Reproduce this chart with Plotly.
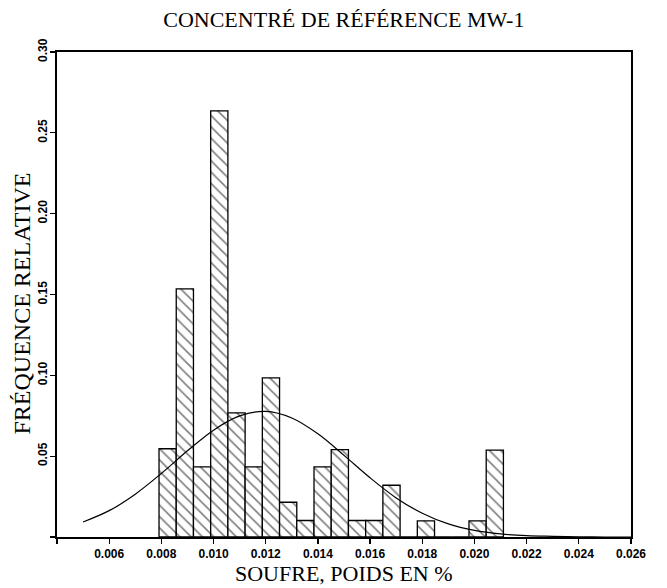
import plotly.graph_objects as go

# ---- data ----
bin_centers = [0.00824, 0.00890, 0.00956, 0.01022, 0.01088, 0.01154, 0.01220,
               0.01286, 0.01352, 0.01418, 0.01484, 0.01550, 0.01616, 0.01682,
               0.01748, 0.01814, 0.01880, 0.01946, 0.02012, 0.02078]
bin_width = 0.00066
rel_freq = [0.0546, 0.1535, 0.0434, 0.2636, 0.0768, 0.0434, 0.0984,
            0.0215, 0.0102, 0.0434, 0.0540, 0.0102, 0.0102, 0.0320,
            0.0, 0.0100, 0.0, 0.0, 0.0100, 0.0537]

curve_x = [0.005, 0.006, 0.007, 0.008, 0.009, 0.010, 0.011, 0.012, 0.013,
           0.014, 0.015, 0.016, 0.017, 0.018, 0.019, 0.020, 0.021, 0.022,
           0.023, 0.024, 0.025, 0.026]
curve_y = [0.0093, 0.0163, 0.0265, 0.0393, 0.0533, 0.0661, 0.0749, 0.0777,
           0.0736, 0.0638, 0.0505, 0.0366, 0.0242, 0.0147, 0.0081, 0.0041,
           0.0019, 0.0008, 0.0004, 0.0001, 0.0, 0.0]

x_tickvals = [0.004, 0.006, 0.008, 0.010, 0.012, 0.014, 0.016, 0.018,
              0.020, 0.022, 0.024, 0.026]
x_ticktext = ["", "0.006", "0.008", "0.010", "0.012", "0.014", "0.016",
              "0.018", "0.020", "0.022", "0.024", "0.026"]
y_tickvals = [0, 0.05, 0.10, 0.15, 0.20, 0.25, 0.30]
y_ticktext = ["", "0.05", "0.10", "0.15", "0.20", "0.25", "0.30"]

title_text = "CONCENTRÉ DE RÉFÉRENCE MW-1"
x_title = "SOUFRE, POIDS EN %"
y_title = "FRÉQUENCE RELATIVE"

serif = "Liberation Serif, Times New Roman, serif"
sans = "Liberation Sans, Arial, sans-serif"

fig = go.Figure()
fig.add_trace(go.Bar(
    x=bin_centers, y=rel_freq, width=bin_width,
    marker=dict(
        color="white",
        line=dict(color="black", width=1.3),
        pattern=dict(shape="\\", fgcolor="black", bgcolor="white",
                     size=8, solidity=0.2, fillmode="overlay"),
    ),
    showlegend=False,
))
fig.add_trace(go.Scatter(
    x=curve_x, y=curve_y, mode="lines", line_shape="spline",
    line=dict(color="black", width=1.2), showlegend=False,
))

fig.update_layout(
    width=667, height=588,
    margin=dict(l=57, r=36, t=52, b=51),
    paper_bgcolor="white", plot_bgcolor="white",
    title=dict(text=title_text, x=0.5155, xanchor="center", y=0.968,
               yanchor="middle", font=dict(family=serif, size=22, color="black")),
    bargap=0,
    annotations=[
        dict(text=x_title, xref="paper", yref="paper", x=0.5, y=0,
             xanchor="center", yanchor="middle", yshift=-36, showarrow=False,
             font=dict(family=serif, size=22, color="black")),
        dict(text=y_title, xref="paper", yref="paper", x=0, y=0.5,
             xanchor="center", yanchor="middle", xshift=-36, yshift=-9,
             textangle=-90, showarrow=False,
             font=dict(family=serif, size=24, color="black")),
    ],
)
fig.update_xaxes(
    range=[0.004, 0.026], tickvals=x_tickvals, ticktext=x_ticktext,
    ticks="outside", ticklen=5, tickwidth=1.2, tickcolor="black",
    showline=True, linecolor="black", linewidth=2, mirror=True,
    showgrid=False, zeroline=False, automargin=False,
    tickfont=dict(family=sans, size=12, color="black", weight="bold"),
)
fig.update_yaxes(
    range=[0, 0.30], tickvals=y_tickvals, ticktext=y_ticktext,
    ticks="outside", ticklen=5, tickwidth=1.2, tickcolor="black",
    tickangle=-90, automargin=False, ticklabelstandoff=-2,
    showline=True, linecolor="black", linewidth=2, mirror=True,
    showgrid=False, zeroline=False,
    tickfont=dict(family=sans, size=12, color="black", weight="bold"),
)

fig.write_html("out.html", config={"displayModeBar": False, "staticPlot": True})

# remove the browser's default page margin so the figure fills the window
with open("out.html", "r", encoding="utf-8") as fh:
    html = fh.read()
html = html.replace("<head>", "<head><style>html,body{margin:0;padding:0;overflow:hidden;}</style>", 1)
with open("out.html", "w", encoding="utf-8") as fh:
    fh.write(html)
